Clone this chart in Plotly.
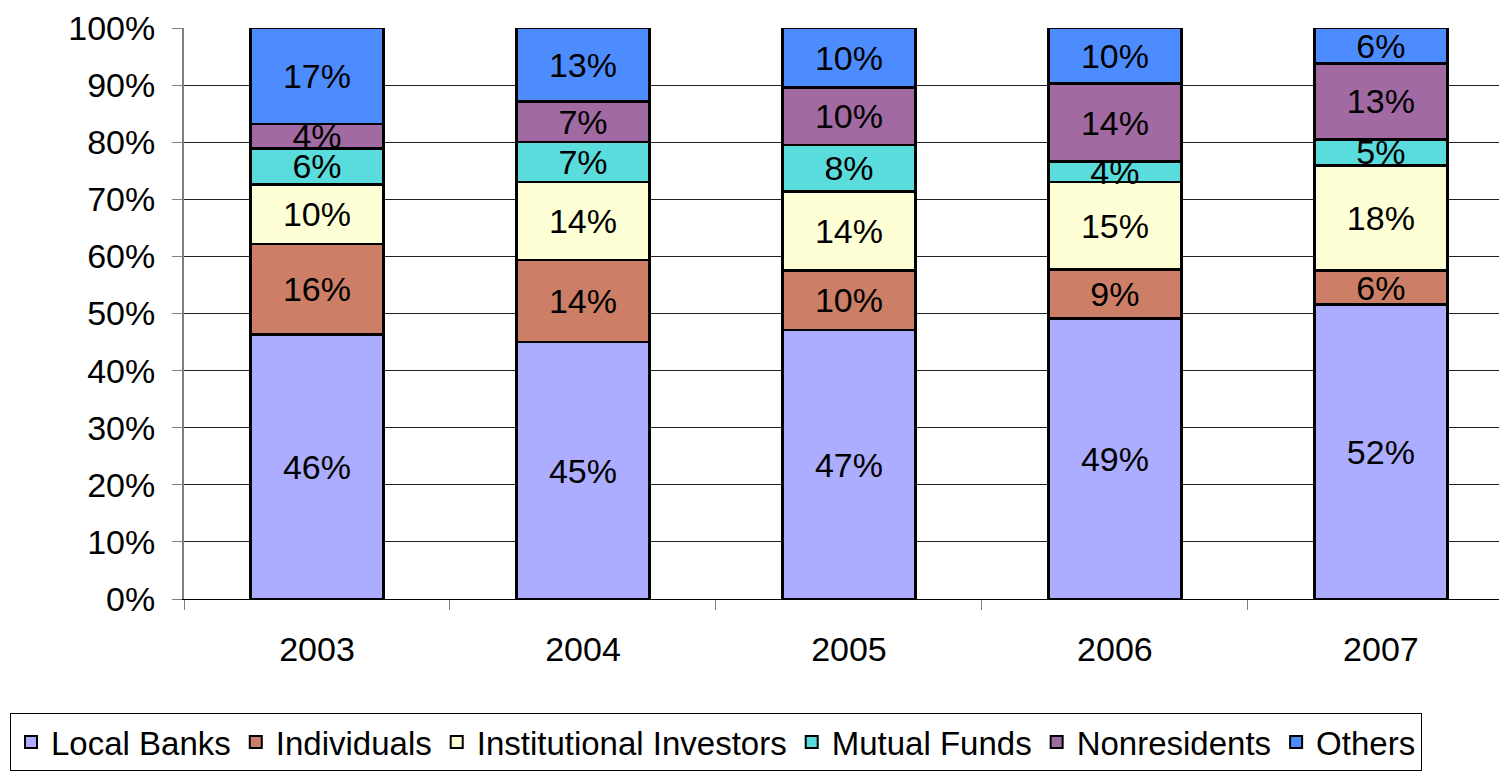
import plotly.graph_objects as go

years = ["2003", "2004", "2005", "2006", "2007"]
local_banks = [46.3, 45.0, 47.1, 49.1, 51.6]
individuals = [15.9, 14.4, 10.4, 8.6, 5.9]
institutional = [10.4, 13.6, 13.9, 15.3, 18.4]
mutual_funds = [6.3, 7.0, 8.1, 3.6, 4.6]
nonresidents = [4.3, 7.1, 10.1, 13.7, 13.3]
others = [16.8, 12.9, 10.4, 9.7, 6.2]

series = [
    ("Local Banks", local_banks, "#ADADFF"),
    ("Individuals", individuals, "#CC7F66"),
    ("Institutional Investors", institutional, "#FFFFD6"),
    ("Mutual Funds", mutual_funds, "#5ADCDC"),
    ("Nonresidents", nonresidents, "#A26AA2"),
    ("Others", others, "#4D8CFF"),
]

FONT = "Liberation Sans, Arial, sans-serif"
L, T, B, W, H = 184, 28, 174, 1499, 773
PW, PH = W - L, H - T - B

fig = go.Figure()
for name, vals, color in series:
    fig.add_trace(go.Bar(
        name=name, x=years, y=vals, width=0.5,
        marker=dict(color=color, line=dict(color="black", width=2.5)),
        text=[f"{v:.0f}%" for v in vals],
        textposition="inside", insidetextanchor="middle",
        textangle=0, constraintext="none",
        textfont=dict(family=FONT, size=34, color="black"),
        cliponaxis=False,
    ))

fig.update_layout(
    barmode="stack",
    width=W, height=H,
    margin=dict(l=L, r=0, t=T, b=B, autoexpand=False),
    paper_bgcolor="white", plot_bgcolor="white",
    font=dict(family=FONT, size=34, color="black"),
    uniformtext=dict(minsize=34, mode="show"),
    showlegend=True,
    legend=dict(
        orientation="h", traceorder="normal",
        x=(10 - L) / PW, xanchor="left",
        y=-(713 - (T + PH)) / PH, yanchor="top",
        bordercolor="black", borderwidth=1,
        font=dict(family=FONT, size=33, color="black"),
        itemsizing="constant",
    ),
)

fig.update_xaxes(
    type="category", range=[-0.5, 4.444],
    showline=True, linecolor="black", linewidth=1,
    ticks="outside", tickson="boundaries", ticklen=10, tickcolor="#808080",
    tickfont=dict(family=FONT, size=34, color="black"),
    ticklabelstandoff=20,
    showgrid=False, zeroline=False,
)
fig.update_yaxes(
    range=[0, 100], tickmode="array",
    tickvals=[0, 10, 20, 30, 40, 50, 60, 70, 80, 90, 100],
    ticktext=[f"{v}%" for v in range(0, 101, 10)],
    showline=True, linecolor="#808080", linewidth=2,
    ticks="outside", ticklen=10, tickcolor="#808080",
    tickfont=dict(family=FONT, size=34, color="black"),
    ticklabelstandoff=10,
    showgrid=True, gridcolor="#202020", gridwidth=1,
    zeroline=False,
)

fig.write_html("out.html", config={"displayModeBar": False},
               post_script="document.body.style.margin='0';")
